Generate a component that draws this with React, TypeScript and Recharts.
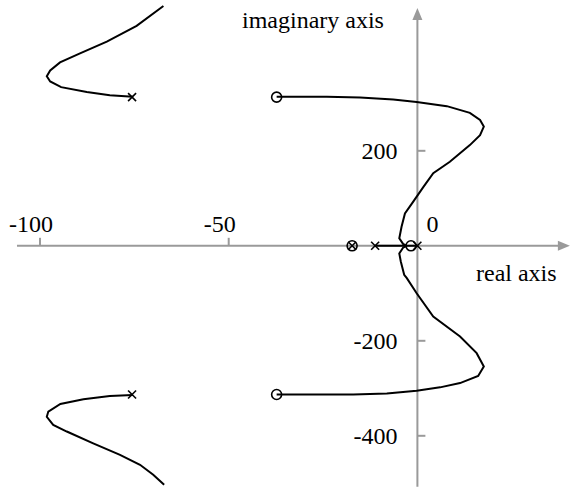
import React from 'react';
import { ScatterChart, Scatter, XAxis, YAxis, ReferenceLine } from 'recharts';

// open-loop poles (x) and zeros (o)
const poles = [
  { x: -75.6, y: 313 },
  { x: -75.6, y: -313 },
  { x: -11.2, y: 0 },
  { x: -17.3, y: 0 },
  { x: 0, y: 0 },
];
const zeros = [
  { x: -37.3, y: 313 },
  { x: -37.3, y: -313 },
  { x: -17.3, y: 0 },
  { x: -1.7, y: 0 },
];

// locus branches
const upperLeft = [
  { x: -75.4, y: 314 }, { x: -81.5, y: 317 }, { x: -87.6, y: 324 }, { x: -94.4, y: 334 },
  { x: -97.3, y: 346 }, { x: -98.2, y: 357 }, { x: -97.3, y: 369 }, { x: -94.7, y: 386 },
  { x: -89.4, y: 405 }, { x: -82.3, y: 430 }, { x: -74.4, y: 463 }, { x: -67.3, y: 505 },
];
const lowerLeft = [
  { x: -75.4, y: -314 }, { x: -81.5, y: -316 }, { x: -88.5, y: -323 }, { x: -94.6, y: -333 },
  { x: -97.8, y: -349 }, { x: -98.2, y: -360 }, { x: -96.5, y: -377 }, { x: -92.9, y: -391 },
  { x: -85.9, y: -416 }, { x: -78.8, y: -440 }, { x: -73.5, y: -461 }, { x: -70, y: -482 },
  { x: -67.1, y: -503 },
];
const upperRight = [
  { x: -37.3, y: 314 }, { x: -24, y: 314 }, { x: -15.2, y: 312 }, { x: -6.4, y: 308 },
  { x: -0.2, y: 303 }, { x: 7.8, y: 294 }, { x: 13.9, y: 280 }, { x: 16.6, y: 265 },
  { x: 17.6, y: 251 }, { x: 16.6, y: 233 }, { x: 13.9, y: 212 }, { x: 8.6, y: 177 },
  { x: 4.2, y: 153 }, { x: 1.6, y: 124 }, { x: -1.1, y: 93 }, { x: -3.3, y: 68 },
  { x: -4.2, y: 40 }, { x: -4.8, y: 16 }, { x: -3.8, y: 4 }, { x: -2.8, y: 0 },
];
const lowerRight = [
  { x: -2.8, y: 0 }, { x: -3.8, y: -4 }, { x: -4.8, y: -16 }, { x: -4.4, y: -33 },
  { x: -3.5, y: -61 }, { x: -2.8, y: -68 }, { x: -0.2, y: -100 }, { x: 4.2, y: -149 },
  { x: 11.3, y: -191 }, { x: 15.7, y: -226 }, { x: 17.6, y: -254 }, { x: 16.1, y: -274 },
  { x: 11.3, y: -289 }, { x: 6, y: -298 }, { x: -0.2, y: -305 }, { x: -8.1, y: -311 },
  { x: -17, y: -313 }, { x: -28.5, y: -313 }, { x: -37.3, y: -313 },
];
const realSegment = [{ x: -11.2, y: 0 }, { x: 0, y: 0 }];

// axis ticks and labels
const xTicks = [
  { x: -100, y: 0, label: '-100' },
  { x: -50, y: 0, label: '-50' },
];
const yTicks = [
  { x: 0, y: 200, label: '200' },
  { x: 0, y: -200, label: '-200' },
  { x: 0, y: -400, label: '-400' },
];
const originLabel = [{ x: 0, y: 0, label: '0' }];
const xAxisEnds = { from: -106.1, to: 40.4 };
const yAxisEnds = { from: -507, to: 500.6 };
const arrowHeads = [
  { x: xAxisEnds.to, y: 0, dir: 'right' },
  { x: 0, y: yAxisEnds.to, dir: 'up' },
];

const AXIS = '#9a9a9a';
const INK = '#000';
const SERIF = 'Liberation Serif, Tinos, DejaVu Serif, Noto Serif, serif';

const none = () => <g />;

const Cross = (p: any) => (
  <g stroke={INK} strokeWidth={1.6}>
    <line x1={p.cx - 4} y1={p.cy - 4} x2={p.cx + 4} y2={p.cy + 4} />
    <line x1={p.cx - 4} y1={p.cy + 4} x2={p.cx + 4} y2={p.cy - 4} />
  </g>
);

const Ring = (p: any) => (
  <circle cx={p.cx} cy={p.cy} r={5} fill="none" stroke={INK} strokeWidth={1.6} />
);

const Arrow = (p: any) => {
  const { cx, cy } = p;
  const pts = p.payload.dir === 'right'
    ? `${cx},${cy} ${cx - 12},${cy - 5} ${cx - 12},${cy + 5}`
    : `${cx},${cy} ${cx - 5},${cy + 12} ${cx + 5},${cy + 12}`;
  return <polygon points={pts} fill={AXIS} />;
};

const XTick = (p: any) => (
  <g>
    <line x1={p.cx} y1={p.cy} x2={p.cx} y2={p.cy - 8} stroke={AXIS} strokeWidth={2} />
    <text x={p.cx - 9} y={p.cy - 14} textAnchor="middle" fontFamily={SERIF} fontSize={24} fill={INK}>
      {p.payload.label}
    </text>
  </g>
);

const YTick = (p: any) => (
  <g>
    <line x1={p.cx} y1={p.cy} x2={p.cx + 8} y2={p.cy} stroke={AXIS} strokeWidth={2} />
    <text x={p.cx - 20} y={p.cy + 8} textAnchor="end" fontFamily={SERIF} fontSize={24} fill={INK}>
      {p.payload.label}
    </text>
  </g>
);

const OriginTick = (p: any) => (
  <text x={p.cx + 9} y={p.cy - 14} fontFamily={SERIF} fontSize={24} fill={INK}>
    {p.payload.label}
  </text>
);

const branchLine = { stroke: INK, strokeWidth: 2 };

export default function App() {
  return (
    <div style={{ position: 'absolute', left: 0, top: 0, background: '#fff', fontFamily: SERIF }}>
      <ScatterChart width={571} height={489} margin={{ top: 0, right: 0, bottom: 0, left: 0 }}>
        <XAxis type="number" dataKey="x" domain={[-110.6, 40.7]} allowDataOverflow hide />
        <YAxis type="number" dataKey="y" domain={[-512, 517.5]} allowDataOverflow hide />

        <ReferenceLine segment={[{ x: xAxisEnds.from, y: 0 }, { x: xAxisEnds.to - 2, y: 0 }]} stroke={AXIS} strokeWidth={2} />
        <ReferenceLine segment={[{ x: 0, y: yAxisEnds.from }, { x: 0, y: yAxisEnds.to - 10 }]} stroke={AXIS} strokeWidth={2} />
        <Scatter data={arrowHeads} shape={Arrow} isAnimationActive={false} />
        <Scatter data={xTicks} shape={XTick} isAnimationActive={false} />
        <Scatter data={yTicks} shape={YTick} isAnimationActive={false} />
        <Scatter data={originLabel} shape={OriginTick} isAnimationActive={false} />

        <Scatter data={upperLeft} line={branchLine} lineType="joint" shape={none} isAnimationActive={false} />
        <Scatter data={lowerLeft} line={branchLine} lineType="joint" shape={none} isAnimationActive={false} />
        <Scatter data={upperRight} line={branchLine} lineType="joint" shape={none} isAnimationActive={false} />
        <Scatter data={lowerRight} line={branchLine} lineType="joint" shape={none} isAnimationActive={false} />
        <Scatter data={realSegment} line={branchLine} lineType="joint" shape={none} isAnimationActive={false} />

        <Scatter data={poles} shape={Cross} isAnimationActive={false} />
        <Scatter data={zeros} shape={Ring} isAnimationActive={false} />
      </ScatterChart>
      <svg width={571} height={489} style={{ position: 'absolute', left: 0, top: 0, pointerEvents: 'none' }}>
        <text x={242} y={28} fontFamily={SERIF} fontSize={24} fill={INK}>imaginary axis</text>
        <text x={476} y={281} fontFamily={SERIF} fontSize={24} fill={INK}>real axis</text>
      </svg>
    </div>
  );
}
